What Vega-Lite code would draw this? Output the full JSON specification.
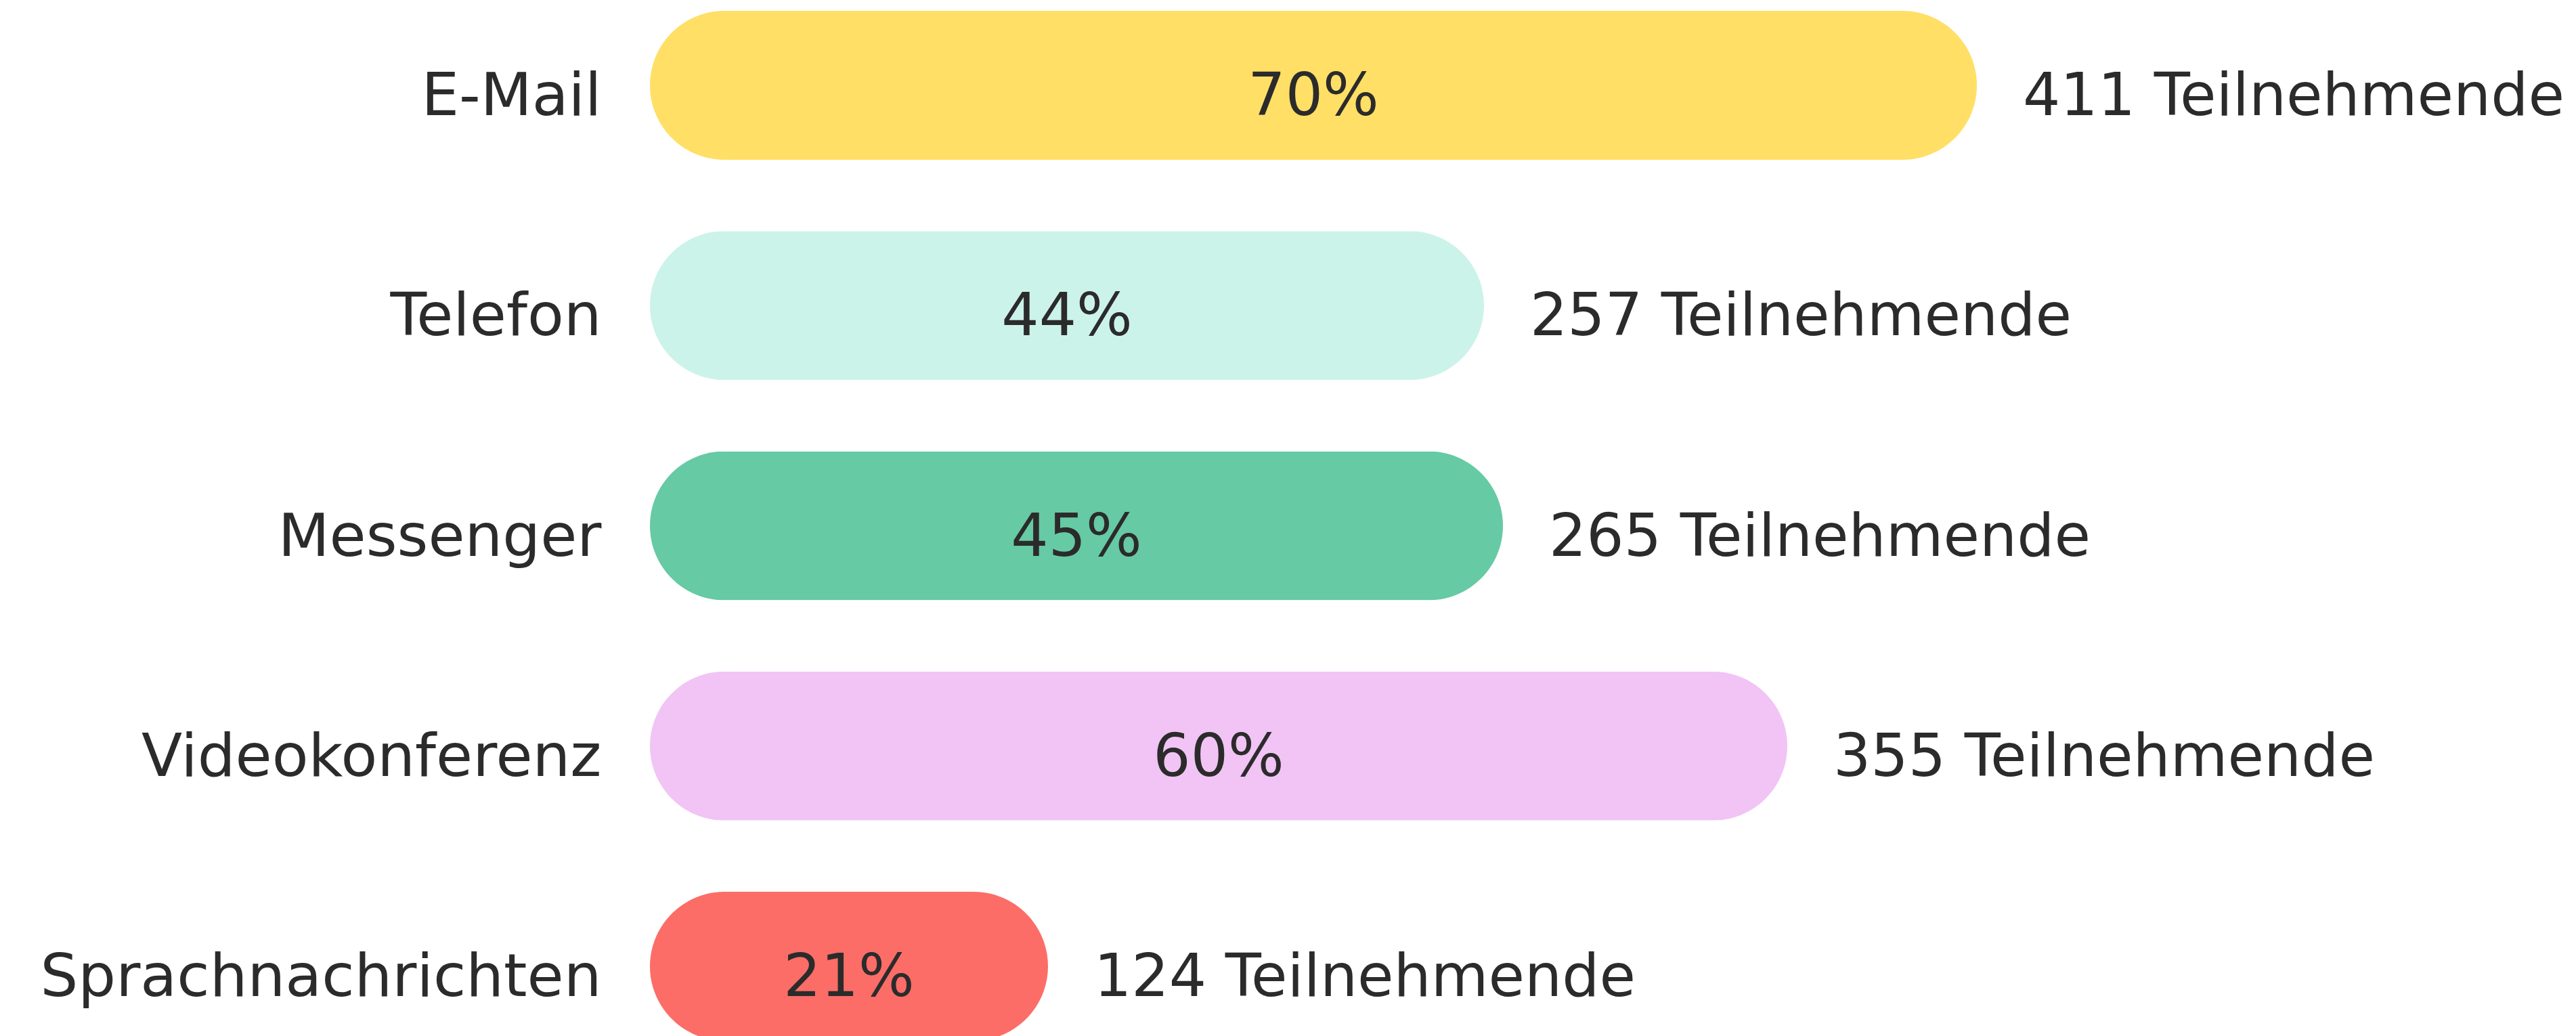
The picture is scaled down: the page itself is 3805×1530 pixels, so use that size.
{
  "$schema": "https://vega.github.io/schema/vega-lite/v6.json",
  "width": 2800,
  "height": 1521,
  "autosize": {"type": "none"},
  "padding": {"left": 960, "top": 16, "right": 45, "bottom": 0},
  "background": "white",
  "config": {
    "view": {"stroke": null},
    "text": {"font": "DejaVu Sans", "fontSize": 87, "color": "#2b2b2b"}
  },
  "data": {
    "values": [
      {"kanal": "E-Mail", "anteil": 70, "teilnehmende": 411},
      {"kanal": "Telefon", "anteil": 44, "teilnehmende": 257},
      {"kanal": "Messenger", "anteil": 45, "teilnehmende": 265},
      {"kanal": "Videokonferenz", "anteil": 60, "teilnehmende": 355},
      {"kanal": "Sprachnachrichten", "anteil": 21, "teilnehmende": 124}
    ]
  },
  "transform": [
    {"calculate": "datum.anteil / 2", "as": "mitte"},
    {"calculate": "datum.anteil + '%'", "as": "prozent"},
    {"calculate": "datum.teilnehmende + ' Teilnehmende'", "as": "anzahl"}
  ],
  "encoding": {
    "y": {
      "field": "kanal",
      "type": "nominal",
      "sort": null,
      "scale": {"paddingInner": 0.324, "paddingOuter": 0},
      "axis": {
        "title": null,
        "domain": false,
        "ticks": false,
        "labelFont": "DejaVu Sans",
        "labelFontSize": 88,
        "labelColor": "#2b2b2b",
        "labelPadding": 72,
        "labelBaseline": "alphabetic",
        "labelOffset": 44,
        "labelLimit": 1000
      }
    }
  },
  "layer": [
    {
      "mark": {"type": "bar", "cornerRadius": 110},
      "encoding": {
        "x": {"field": "anteil", "type": "quantitative", "scale": {"domain": [0, 100]}, "axis": null},
        "color": {
          "field": "kanal",
          "type": "nominal",
          "legend": null,
          "scale": {
            "domain": ["E-Mail", "Telefon", "Messenger", "Videokonferenz", "Sprachnachrichten"],
            "range": ["#ffdf66", "#ccf3e9", "#66caa4", "#f1c4f5", "#fc6d67"]
          }
        }
      }
    },
    {
      "mark": {"type": "text", "align": "center", "baseline": "alphabetic", "dy": 44},
      "encoding": {
        "x": {"field": "mitte", "type": "quantitative", "scale": {"domain": [0, 100]}},
        "text": {"field": "prozent"}
      }
    },
    {
      "mark": {"type": "text", "align": "left", "baseline": "alphabetic", "dx": 68, "dy": 44},
      "encoding": {
        "x": {"field": "anteil", "type": "quantitative", "scale": {"domain": [0, 100]}},
        "text": {"field": "anzahl"}
      }
    }
  ]
}
